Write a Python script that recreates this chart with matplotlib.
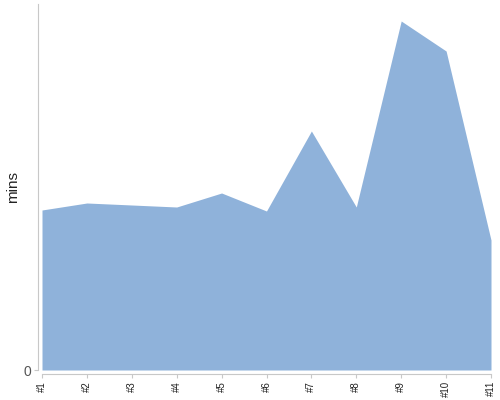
import matplotlib
matplotlib.use('Agg')
import matplotlib.pyplot as plt

plt.rcParams['font.family'] = ['Liberation Sans', 'DejaVu Sans']

categories = ['#1', '#2', '#3', '#4', '#5', '#6', '#7', '#8', '#9', '#10', '#11']
mins = [160, 167, 165, 163, 177, 159, 239, 163, 349, 319, 130]

fig = plt.figure(figsize=(5, 4), dpi=100)
ax = fig.add_axes([0.084, 0.075, 0.898, 0.915])

# offset spines first, set_position resets the ticks
for side in ['top', 'right']:
    ax.spines[side].set_visible(False)
ax.spines['left'].set_position(('outward', 3))
ax.spines['bottom'].set_position(('outward', 3))
ax.spines['left'].set_color('#c8c8c8')
ax.spines['bottom'].set_color('#c8c8c8')

x = list(range(len(categories)))
ax.fill_between(x, 0, mins, color='#8fb2da', linewidth=0)

ax.set_xlim(0, len(categories) - 1)
ax.set_ylim(0, 366)
ax.set_xticks(x)
ax.set_xticklabels(categories, rotation=90, fontsize=7, color='#222222')
ax.set_yticks([0])
ax.set_yticklabels(['0'], fontsize=10, color='#555555')
ax.tick_params(axis='both', color='#c8c8c8', length=3, pad=2)

fig.text(13 / 500, 1 - 187 / 400, 'mins', rotation=90, ha='center', va='center',
         fontsize=11, color='#222222')

fig.savefig('out.png', dpi=100)
plt.close(fig)
